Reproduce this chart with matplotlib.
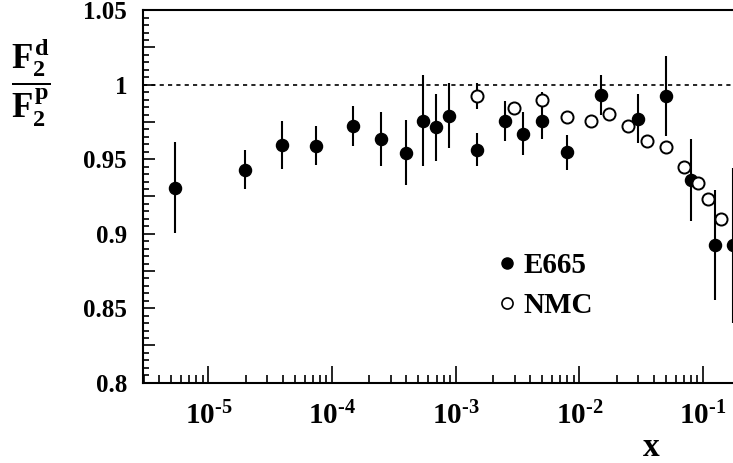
import math
import matplotlib
matplotlib.use("Agg")
import matplotlib.pyplot as plt
from matplotlib.lines import Line2D
from matplotlib.ticker import MultipleLocator, LogLocator, FuncFormatter, NullFormatter

plt.rcParams['font.family'] = ['Liberation Serif', 'DejaVu Serif']
plt.rcParams['font.weight'] = 'bold'
plt.rcParams['mathtext.fontset'] = 'custom'
plt.rcParams['mathtext.rm'] = 'Liberation Serif:bold'
plt.rcParams['mathtext.bf'] = 'Liberation Serif:bold'
plt.rcParams['mathtext.it'] = 'Liberation Serif:bold'

# E665 (filled)
e665_x = [5.38e-6, 1.98e-5, 3.96e-5, 7.41e-5, 1.49e-4, 2.47e-4, 3.96e-4, 5.46e-4,
          6.89e-4, 8.86e-4, 1.49e-3, 2.50e-3, 3.48e-3, 5.00e-3, 8.0e-3, 0.0150,
          0.0299, 0.0500, 0.0796, 0.125, 0.174]
e665_y = [0.931, 0.943, 0.9595, 0.959, 0.972, 0.9636, 0.9544, 0.9758,
          0.9714, 0.9792, 0.9565, 0.9758, 0.9671, 0.9758, 0.9545, 0.9929,
          0.9773, 0.9925, 0.936, 0.8924, 0.8924]
e665_err = [0.0303, 0.013, 0.016, 0.013, 0.0134, 0.018, 0.022, 0.0305,
            0.0224, 0.022, 0.011, 0.0134, 0.0145, 0.0125, 0.0117, 0.0134,
            0.0164, 0.027, 0.0273, 0.0367, 0.052]

# NMC (open)
nmc_x = [1.49e-3, 2.98e-3, 5.0e-3, 8.0e-3, 0.0124, 0.0174, 0.0249, 0.0349,
         0.0497, 0.0698, 0.0903, 0.1096, 0.140]
nmc_y = [0.9924, 0.9846, 0.9894, 0.9785, 0.9756, 0.9801, 0.9724, 0.9622,
         0.9585, 0.945, 0.9342, 0.9231, 0.9097]
nmc_err = [0.009, 0.004, 0.006, 0.003, 0.003, 0.003, 0.003, 0.003,
           0.003, 0.003, 0.003, 0.003, 0.003]

fig = plt.figure(figsize=(7.33, 4.63), dpi=100)
ax = fig.add_axes([143 / 733, 80.3 / 463, 590 / 733, 372.5 / 463])

ax.axhline(1.0, color='black', lw=1.2, ls=(0, (2.5, 2.5)), zorder=1)

ax.errorbar(e665_x, e665_y, yerr=e665_err, fmt='o', color='black', ms=8.7,
            elinewidth=1.5, capsize=0, zorder=3)
ax.errorbar(nmc_x, nmc_y, yerr=nmc_err, fmt='o', color='black', mfc='white',
            mec='black', mew=1.4, ms=8.7, elinewidth=1.5, capsize=0, zorder=4)

ax.set_xscale('log')
ax.set_xlim(2.965e-6, 10 ** -0.758)
ax.set_ylim(0.8, 1.05)

ax.spines['right'].set_visible(False)
for s in ['top', 'left', 'bottom']:
    ax.spines[s].set_linewidth(1.5)

ax.xaxis.set_major_locator(LogLocator(base=10))
ax.xaxis.set_minor_locator(LogLocator(base=10, subs=range(2, 10)))
ax.xaxis.set_minor_formatter(NullFormatter())
ax.xaxis.set_major_formatter(
    FuncFormatter(lambda v, p: r'$10^{\text{-}%d}$' % abs(round(math.log10(v)))))

ax.yaxis.set_major_locator(MultipleLocator(0.025))
ax.yaxis.set_minor_locator(MultipleLocator(0.005))


def ylab(v, p):
    r = round(v / 0.05, 6)
    if abs(r - round(r)) < 1e-6:
        return '%g' % round(v, 3)
    return ''


ax.yaxis.set_major_formatter(FuncFormatter(ylab))

ax.tick_params(axis='x', which='major', direction='in', length=12, width=1.2,
               labelsize=21, pad=14, top=False)
ax.tick_params(axis='x', which='minor', direction='in', length=6, width=1.2, top=False)
ax.tick_params(axis='y', which='major', direction='in', length=8.5, width=1.2,
               labelsize=18, pad=11.5, right=False)
ax.tick_params(axis='y', which='minor', direction='in', length=4.2, width=1.2, right=False)

fig.text(650.7 / 733, 1 - 456.5 / 463, 'x', ha='center', va='baseline',
         fontsize=24, fontweight='bold')
fig.text(31 / 733, 1 - 83 / 463, r'$\dfrac{F_2^d}{F_2^p}$', ha='center', va='center',
         fontsize=25)

handles = [Line2D([], [], ls='none', marker='o', color='black', ms=8),
           Line2D([], [], ls='none', marker='o', mfc='white', mec='black', mew=1.2, ms=8)]
ax.legend(handles, ['E665', 'NMC'], loc='upper left', frameon=False,
          bbox_to_anchor=(500 / 733, 1 - 252 / 463), bbox_transform=fig.transFigure,
          borderpad=0, borderaxespad=0, handlelength=0.5, handletextpad=0.3,
          labelspacing=0.45, prop={'size': 21, 'weight': 'bold'})

fig.savefig('out.png', dpi=100)
